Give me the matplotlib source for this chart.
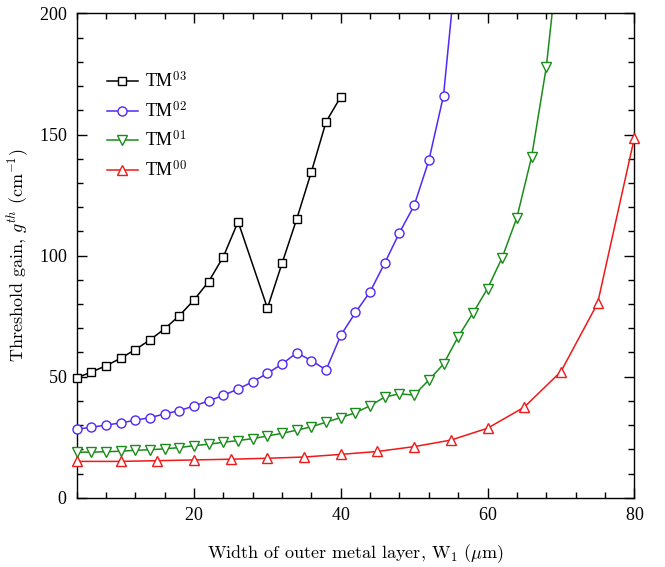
import matplotlib
matplotlib.use("Agg")
import matplotlib.pyplot as plt
from matplotlib.ticker import MultipleLocator

# ---- data ----
x_tm03 = [4, 6, 8, 10, 12, 14, 16, 18, 20, 22, 24, 26, 30, 32, 34, 36, 38, 40]
y_tm03 = [49.5, 51.9, 54.5, 57.6, 61.2, 65.2, 69.8, 75.2, 81.7, 89.3, 99.6, 114.0,
          78.3, 96.9, 115.2, 134.7, 155.3, 165.6]

x_tm02 = [4, 6, 8, 10, 12, 14, 16, 18, 20, 22, 24, 26, 28, 30, 32, 34, 36, 38, 40,
          42, 44, 46, 48, 50, 52, 54, 56]
y_tm02 = [28.3, 29.1, 30.0, 30.9, 32.0, 33.1, 34.6, 36.0, 37.9, 40.0, 42.3, 44.9,
          47.9, 51.4, 55.2, 59.9, 56.6, 52.8, 67.1, 76.5, 85.1, 97.0, 109.5, 120.7,
          139.3, 166.1, 228.0]

x_tm01 = [4, 6, 8, 10, 12, 14, 16, 18, 20, 22, 24, 26, 28, 30, 32, 34, 36, 38, 40,
          42, 44, 46, 48, 50, 52, 54, 56, 58, 60, 62, 64, 66, 68, 70]
y_tm01 = [18.8, 18.8, 19.0, 19.2, 19.6, 19.8, 20.2, 20.7, 21.5, 22.1, 22.9, 23.6,
          24.4, 25.5, 26.6, 27.9, 29.3, 31.2, 33.1, 35.1, 38.0, 41.6, 42.9, 42.4,
          48.6, 55.2, 66.5, 76.2, 86.4, 99.2, 115.7, 140.7, 177.7, 233.5]

x_tm00 = [4, 10, 15, 20, 25, 30, 35, 40, 45, 50, 55, 60, 65, 70, 75, 80]
y_tm00 = [15.0, 15.0, 15.3, 15.6, 15.9, 16.3, 16.8, 17.9, 19.1, 21.1, 23.8, 28.7,
          37.4, 52.1, 80.3, 148.5]

labels = [r"TM$^{03}$", r"TM$^{02}$", r"TM$^{01}$", r"TM$^{00}$"]
colors = ["#000000", "#5228f5", "#1a8c1a", "#f01818"]

plt.rcParams["mathtext.fontset"] = "cm"
plt.rcParams["axes.formatter.use_mathtext"] = True

fig = plt.figure(figsize=(6.65, 5.67), dpi=100)
ax = fig.add_axes([0.1153, 0.1222, 0.8385, 0.8540])

YMAX = 200
series = [(x_tm03, y_tm03, "s"), (x_tm02, y_tm02, "o"),
          (x_tm01, y_tm01, "v"), (x_tm00, y_tm00, "^")]
handles = []
for (xs, ys, m), lab, c in zip(series, labels, colors):
    ms = 5.8 if m == "s" else 6.5
    ax.plot(xs, ys, color=c, lw=1.1, zorder=2)
    px = [a for a, b in zip(xs, ys) if b <= YMAX]
    py = [b for b in ys if b <= YMAX]
    ax.plot(px, py, ls="none", marker=m, markersize=ms, markerfacecolor="white",
            markeredgecolor=c, markeredgewidth=1.0, clip_on=False, zorder=3)
    h, = ax.plot([], [], color=c, lw=1.1, marker=m, markersize=ms,
                 markerfacecolor="white", markeredgecolor=c, markeredgewidth=1.0,
                 label=lab)
    handles.append(h)

ax.set_xlim(4, 80)
ax.set_ylim(0, YMAX)
ax.xaxis.set_major_locator(MultipleLocator(20))
ax.xaxis.set_minor_locator(MultipleLocator(4))
ax.yaxis.set_major_locator(MultipleLocator(50))
ax.yaxis.set_minor_locator(MultipleLocator(10))
ax.tick_params(which="both", direction="in", top=True, right=True, width=1.0)
ax.tick_params(which="major", length=7, labelsize=13, pad=7)
ax.tick_params(which="minor", length=4)
for lbl in ax.get_xticklabels() + ax.get_yticklabels():
    lbl.set_fontfamily("Liberation Serif")
for s in ax.spines.values():
    s.set_linewidth(1.0)

ax.set_xlabel(r"Width of outer metal layer, W$_1$ ($\mathrm{\mu}$m)", fontsize=13,
              family=["cmr10"], labelpad=13)
ax.set_ylabel(r"Threshold gain, $g^{th}$ (cm$^{-1}$)", fontsize=13,
              family=["cmr10"])
ax.yaxis.set_label_coords(-0.082, 0.5)

leg = ax.legend(handles=handles, loc="upper left", bbox_to_anchor=(0.025, 0.915),
                frameon=False, prop={"family": "Liberation Serif", "size": 13},
                handlelength=1.7, labelspacing=0.5, handletextpad=0.4)

fig.savefig("out.png", dpi=100)
